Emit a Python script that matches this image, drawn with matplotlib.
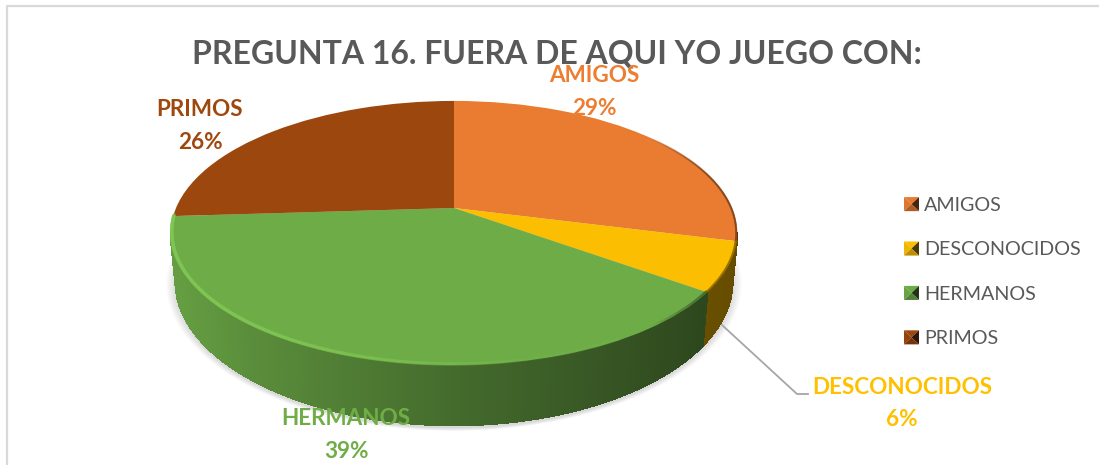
import numpy as np
import matplotlib
matplotlib.use("Agg")
import matplotlib.pyplot as plt
from matplotlib.collections import PolyCollection, LineCollection
from matplotlib.legend_handler import HandlerBase
from matplotlib.patches import Polygon, Wedge
from matplotlib.transforms import Transform
from matplotlib.colors import to_rgb

plt.rcParams['font.family'] = ['Lato', 'DejaVu Sans']

categories = ['AMIGOS', 'DESCONOCIDOS', 'HERMANOS', 'PRIMOS']
percent_values = [29, 6, 39, 26]
slice_colors = ['#E97C30', '#FCBE00', '#6EAC48', '#9C470E']
label_colors = ['#ED7D31', '#FFC000', '#70AD47', '#9E480E']
chart_title = 'PREGUNTA 16. FUERA DE AQUI YO JUEGO CON:'

CX, CY = 454.0, 208.0
RX, A, C = 278.0, 88.0, 0.189


def project(x, y):
    den = 1 + C * y
    return CX + RX * x / den, (CY - A * y) / den


class Perspective(Transform):
    input_dims = 2
    output_dims = 2
    is_separable = False
    has_inverse = False

    def transform_non_affine(self, values):
        values = np.asarray(values, dtype=float)
        X, Y = project(values[:, 0], values[:, 1])
        return np.column_stack([X, Y])


def ring_top(theta):
    return project(np.sin(theta), np.cos(theta))


def ring_low(theta):
    X, Y = ring_top(theta)
    v = -np.cos(theta)
    return CX + 0.982 * (X - CX), Y + 50 + 10 * v * np.abs(v)


def shade(x):
    return np.interp(x, [171, 250, 454, 700, 740], [0.92, 0.82, 0.62, 0.42, 0.40])


fig = plt.figure(figsize=(10.99, 4.65), dpi=100)
ax = fig.add_axes([0, 0, 1, 1])
wedges, _ = ax.pie(percent_values, colors=slice_colors, startangle=90, counterclock=False,
                   wedgeprops=dict(linewidth=0), normalize=True)
ax.set_aspect('auto')
ax.set_xlim(0, 1099)
ax.set_ylim(465, 0)
ax.axis('off')

persp = Perspective() + ax.transData
for w in wedges:
    w.set_transform(persp)
    w.set_zorder(5)

# chart frame (left and top edges show)
ax.plot([7, 7, 1099], [470, 6, 6], color='#D9D9D9', linewidth=1.6, zorder=0)

bounds = np.radians(np.cumsum([0] + percent_values) * 3.6)

# soft shadow under the pie
th_all = np.linspace(0, 2 * np.pi, 240)
lx, ly = ring_low(th_all)
for s in np.linspace(1.035, 1.0, 10):
    ax.fill(CX + s * (lx - CX), 340 + s * (ly - 340) + 3, color='#808080', alpha=0.03, lw=0, zorder=1)

# extruded side of the pie (only the part in front of the silhouette)
polys, cols = [], []
lo, hi = np.radians(101), np.radians(259)
for i, col in enumerate(slice_colors):
    a, b = max(bounds[i], lo), min(bounds[i + 1], hi)
    if b <= a:
        continue
    th = np.linspace(a, b, int((b - a) * 120) + 2)
    for t0, t1 in zip(th[:-1], th[1:]):
        tt = np.array([t0, t1])
        xt, yt = ring_top(tt)
        xl, yl = ring_low(tt)
        polys.append(np.column_stack([np.r_[xt, xl[::-1]], np.r_[yt, yl[::-1]]]))
        cols.append(tuple(np.array(to_rgb(col)) * shade(xt.mean())))
ax.add_collection(PolyCollection(polys, facecolors=cols, edgecolors=cols, linewidths=1.2,
                                 antialiased=False, zorder=3))

# bevel highlight along the front rim
segs, segc, segw = [], [], []
for i, col in enumerate(slice_colors):
    if i == 3:
        continue
    th = np.linspace(bounds[i], bounds[i + 1], int((bounds[i + 1] - bounds[i]) * 120) + 2)
    for t0, t1 in zip(th[:-1], th[1:]):
        tt = np.array([t0, t1])
        x, y = ring_top(tt)
        xm = x.mean()
        base = np.array(to_rgb(col))
        if i == 2 and xm < 620:
            rgb = np.clip(base * 1.15, 0, 1)
            alpha = 0.7 * np.clip((560 - xm) / 300, 0.12, 1)
            width = 2.6
        else:
            rgb = base * 0.5
            alpha = 0.5 * np.clip((xm - 650) / 60, 0, 1)
            width = 1.5
        segs.append(np.column_stack([CX + 0.997 * (x - CX), y - 1.0 if i == 2 else y]))
        segc.append((*rgb, alpha))
        segw.append(width)
ax.add_collection(LineCollection(segs, colors=segc, linewidths=segw, capstyle='round', zorder=6))

# data labels
label_pos = [(594, 76, 108), (902, 387, 419), (346, 418, 451), (200, 109, 142)]
for name, val, col, (lxp, y1, y2) in zip(categories, percent_values, label_colors, label_pos):
    ax.text(lxp, y1, name, color=col, fontsize=16.2, fontweight='bold', ha='center', va='center', zorder=9)
    ax.text(lxp, y2, f'{val}%', color=col, fontsize=16.2, fontweight='bold', ha='center', va='center', zorder=9)

# leader line
ax.plot([722, 797, 808], [325, 394, 394], color='#A6A6A6', lw=1.3, zorder=2)

ax.text(557, 54, chart_title, color='#595959', fontsize=23, fontweight='bold', ha='center', va='center', zorder=8)


class PyramidHandler(HandlerBase):
    def create_artists(self, legend, orig, xd, yd, w, h, fontsize, trans):
        base = np.array(orig.get_facecolor()[:3])
        x0, y0 = -xd, -yd
        c = (x0 + w / 2, y0 + h / 2)
        p = [(x0, y0), (x0 + w, y0), (x0 + w, y0 + h), (x0, y0 + h)]
        tris = [((p[2], p[3]), base),
                ((p[3], p[0]), base * 0.95),
                ((p[1], p[2]), base * 0.3),
                ((p[0], p[1]), np.clip(base * 0.75, 0, 1))]
        return [Polygon([a, b, c], closed=True, facecolor=col, edgecolor='none', transform=trans)
                for (a, b), col in tris]


leg = ax.legend(wedges, categories, handler_map={Wedge: PyramidHandler()}, loc='upper left',
                bbox_to_anchor=(904, 197), bbox_transform=ax.transData, frameon=False,
                fontsize=14.2, labelcolor='#595959', handlelength=0.76, handleheight=0.72,
                handletextpad=0.25, labelspacing=1.39, borderpad=0, borderaxespad=0)
leg.set_zorder(9)

fig.savefig('out.png', dpi=100)
